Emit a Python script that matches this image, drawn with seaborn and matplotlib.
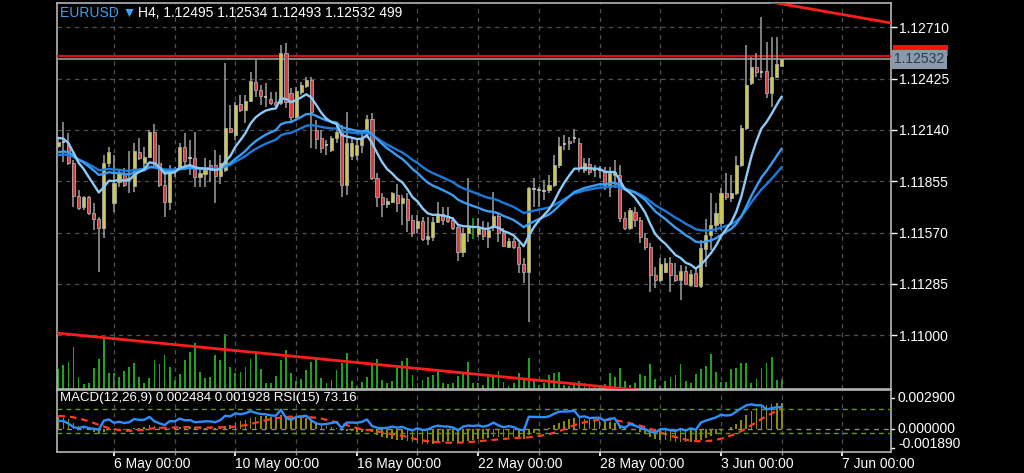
import numpy as np
import pandas as pd
import matplotlib
matplotlib.use("Agg")
import matplotlib.pyplot as plt
import matplotlib.transforms as mtransforms
from matplotlib.patches import Rectangle
import seaborn as sns

# ---------------- data (EURUSD H4) ----------------
opens = [1.12051, 1.12071, 1.12057, 1.11957, 1.11773, 1.11712, 1.11768, 1.11679, 1.11645, 1.11595,
         1.11957, 1.11734, 1.11851, 1.11901, 1.11862, 1.11829, 1.12018, 1.11957, 1.11990, 1.12129,
         1.11957, 1.11834, 1.11740, 1.11907, 1.11935, 1.12046, 1.11985, 1.11985, 1.11879, 1.11896,
         1.11946, 1.11946, 1.11884, 1.11918, 1.12151, 1.12112, 1.12285, 1.12251, 1.12301, 1.12407,
         1.12363, 1.12324, 1.12313, 1.12296, 1.12290, 1.12568, 1.12346, 1.12213, 1.12351, 1.12385,
         1.12418, 1.12140, 1.12096, 1.12051, 1.12029, 1.12096, 1.12140, 1.11834, 1.11996, 1.12001,
         1.12057, 1.12124, 1.12201, 1.11873, 1.11768, 1.11729, 1.11740, 1.11779, 1.11734, 1.11757,
         1.11640, 1.11595, 1.11634, 1.11534, 1.11545, 1.11629, 1.11673, 1.11657, 1.11640, 1.11601,
         1.11462, 1.11568, 1.11584, 1.11562, 1.11595, 1.11545, 1.11601, 1.11662, 1.11568, 1.11490,
         1.11523, 1.11490, 1.11395, 1.11351, 1.11807, 1.11812, 1.11807, 1.11807, 1.11834, 1.11946,
         1.12057, 1.12079, 1.12101, 1.12068, 1.11918, 1.11951, 1.11912, 1.11912, 1.11912, 1.11823,
         1.11890, 1.11890, 1.11651, 1.11595, 1.11684, 1.11640, 1.11540, 1.11490, 1.11334, 1.11306,
         1.11351, 1.11401, 1.11334, 1.11306, 1.11356, 1.11278, 1.11345, 1.11273, 1.11479, 1.11556,
         1.11612, 1.11623, 1.11790, 1.11762, 1.11790, 1.11946, 1.12151, 1.12402, 1.12491, 1.12463,
         1.12468, 1.12346, 1.12435, 1.12495]
highs = [1.12101, 1.12185, 1.12124, 1.11973, 1.11807, 1.11773, 1.11773, 1.11734, 1.11657, 1.12001,
         1.12046, 1.12001, 1.11918, 1.11929, 1.12023, 1.12068, 1.12096, 1.12046, 1.12140, 1.12174,
         1.12057, 1.11918, 1.11946, 1.11935, 1.12068, 1.12124, 1.12085, 1.12129, 1.11918, 1.11985,
         1.11973, 1.12029, 1.12001, 1.12513, 1.12279, 1.12296, 1.12335, 1.12335, 1.12463, 1.12529,
         1.12390, 1.12402, 1.12351, 1.12351, 1.12613, 1.12624, 1.12374, 1.12379, 1.12407, 1.12435,
         1.12435, 1.12196, 1.12140, 1.12085, 1.12107, 1.12179, 1.12168, 1.12240, 1.12101, 1.12096,
         1.12129, 1.12224, 1.12235, 1.11901, 1.11790, 1.11762, 1.11796, 1.11840, 1.11779, 1.11790,
         1.11668, 1.11668, 1.11657, 1.11657, 1.11657, 1.11740, 1.11712, 1.11712, 1.11657, 1.11612,
         1.11595, 1.11873, 1.11651, 1.11651, 1.11634, 1.11629, 1.11796, 1.11684, 1.11595, 1.11540,
         1.11540, 1.11512, 1.11429, 1.11823, 1.11873, 1.11823, 1.11862, 1.11890, 1.12001, 1.12101,
         1.12112, 1.12101, 1.12146, 1.12096, 1.11985, 1.11985, 1.11946, 1.11940, 1.11935, 1.11935,
         1.11973, 1.11946, 1.11684, 1.11707, 1.11712, 1.11657, 1.11568, 1.11512, 1.11379, 1.11429,
         1.11429, 1.11434, 1.11401, 1.11390, 1.11384, 1.11362, 1.11379, 1.11529, 1.11645, 1.11790,
         1.11734, 1.11818, 1.11901, 1.11890, 1.11996, 1.12168, 1.12613, 1.12546, 1.12568, 1.12768,
         1.12630, 1.12657, 1.12657, 1.12534]
lows = [1.12040, 1.11962, 1.11946, 1.11712, 1.11695, 1.11695, 1.11668, 1.11584, 1.11351, 1.11540,
        1.11935, 1.11684, 1.11823, 1.11823, 1.11790, 1.11796, 1.11973, 1.11918, 1.11985, 1.11929,
        1.11823, 1.11657, 1.11695, 1.11879, 1.11918, 1.11918, 1.11890, 1.11823, 1.11823, 1.11823,
        1.11851, 1.11734, 1.11840, 1.11907, 1.12124, 1.12085, 1.12240, 1.12179, 1.12296, 1.12324,
        1.12279, 1.12268, 1.12279, 1.12268, 1.12279, 1.12263, 1.12185, 1.12196, 1.12335, 1.12374,
        1.12040, 1.12035, 1.12012, 1.12001, 1.12018, 1.12068, 1.11768, 1.11779, 1.11973, 1.11973,
        1.12012, 1.12096, 1.11862, 1.11712, 1.11657, 1.11707, 1.11734, 1.11684, 1.11612, 1.11573,
        1.11545, 1.11568, 1.11523, 1.11501, 1.11523, 1.11623, 1.11612, 1.11623, 1.11584, 1.11412,
        1.11434, 1.11517, 1.11534, 1.11545, 1.11529, 1.11484, 1.11579, 1.11517, 1.11490, 1.11484,
        1.11479, 1.11345, 1.11290, 1.11073, 1.11712, 1.11712, 1.11751, 1.11790, 1.11823, 1.11929,
        1.12029, 1.12029, 1.12068, 1.11907, 1.11901, 1.11890, 1.11879, 1.11873, 1.11807, 1.11768,
        1.11818, 1.11629, 1.11584, 1.11584, 1.11601, 1.11512, 1.11473, 1.11240, 1.11262, 1.11295,
        1.11345, 1.11240, 1.11295, 1.11195, 1.11278, 1.11267, 1.11267, 1.11262, 1.11379, 1.11473,
        1.11573, 1.11584, 1.11751, 1.11740, 1.11779, 1.11935, 1.12140, 1.12390, 1.12435, 1.12429,
        1.12318, 1.12268, 1.12429, 1.12493]
closes = [1.12073, 1.12073, 1.11957, 1.11773, 1.11707, 1.11768, 1.11679, 1.11645, 1.11595, 1.11957,
          1.12018, 1.11846, 1.11901, 1.11834, 1.11868, 1.12023, 1.11985, 1.11990, 1.12129, 1.11935,
          1.11834, 1.11740, 1.11918, 1.11912, 1.12046, 1.11968, 1.11982, 1.11879, 1.11901, 1.11918,
          1.11918, 1.11884, 1.11957, 1.12151, 1.12129, 1.12279, 1.12251, 1.12301, 1.12413, 1.12363,
          1.12329, 1.12321, 1.12290, 1.12279, 1.12568, 1.12296, 1.12213, 1.12357, 1.12390, 1.12418,
          1.12240, 1.12090, 1.12040, 1.12057, 1.12096, 1.12129, 1.11834, 1.12068, 1.12068, 1.12057,
          1.12096, 1.12201, 1.11873, 1.11768, 1.11729, 1.11745, 1.11790, 1.11734, 1.11762, 1.11640,
          1.11568, 1.11634, 1.11534, 1.11551, 1.11629, 1.11673, 1.11640, 1.11634, 1.11595, 1.11462,
          1.11568, 1.11601, 1.11584, 1.11601, 1.11551, 1.11584, 1.11662, 1.11568, 1.11495, 1.11523,
          1.11490, 1.11395, 1.11351, 1.11818, 1.11812, 1.11807, 1.11801, 1.11834, 1.11946, 1.12051,
          1.12062, 1.12068, 1.12096, 1.11929, 1.11957, 1.11907, 1.11918, 1.11918, 1.11834, 1.11901,
          1.11907, 1.11651, 1.11595, 1.11695, 1.11640, 1.11545, 1.11490, 1.11334, 1.11306, 1.11395,
          1.11401, 1.11334, 1.11306, 1.11356, 1.11284, 1.11340, 1.11273, 1.11484, 1.11556, 1.11612,
          1.11679, 1.11790, 1.11768, 1.11790, 1.11946, 1.12151, 1.12390, 1.12491, 1.12463, 1.12465,
          1.12346, 1.12435, 1.12507, 1.12532]
volumes = [1000, 1200, 1350, 2100, 600, 250, 300, 1050, 1500, 2600, 800,
           800, 600, 900, 1100, 1300, 600, 300, 550, 1450, 1250,
           1700, 1100, 450, 750, 1450, 1850, 2300, 850, 550, 600,
           1700, 1450, 2750, 1100, 800, 850, 1100, 1500, 1750, 1000,
           300, 300, 650, 1450, 1950, 800, 400, 500, 950, 1350,
           1500, 550, 300, 450, 950, 1300, 1800, 400, 150, 350,
           600, 1250, 1500, 450, 300, 400, 1050, 1400, 1550, 700,
           300, 450, 600, 700, 900, 300, 250, 300, 650, 850,
           1350, 300, 300, 200, 600, 650, 900, 350, 150, 300,
           800, 550, 1550, 450, 200, 300, 700, 800, 850, 200,
           150, 200, 400, 300, 150, 100, 200, 250, 800, 600,
           1050, 400, 200, 300, 750, 650, 1250, 500, 150, 400,
           600, 700, 1250, 400, 300, 750, 1000, 1150, 1750, 850,
           350, 350, 1000, 1050, 1300, 1300, 300, 500, 1050, 1300,
           1600, 450, 499]

date_ticks = [11, 35, 59, 83, 107, 131, 155]
date_labels = ["6 May 00:00", "10 May 00:00", "16 May 00:00", "22 May 00:00",
               "28 May 00:00", "3 Jun 00:00", "7 Jun 00:00"]
price_ticks = [1.11000, 1.11285, 1.11570, 1.11855, 1.12140, 1.12425, 1.12710]
macd_ticks = [0.002900, 0.000000, -0.001890]
current_price = 1.12532
red_level = 1.12552
upper_trend_x = [120, 166]
upper_trend_y = [1.12954, 1.12728]
lower_trend_x = [-1, 116]
lower_trend_y = [1.11013, 1.10690]
highlight_bar = 82
# indicator state at the left edge of the chart
ma_periods = {"fast": 10, "mid": 25, "slow": 38}
ma_start = {"fast": 1.12101, "mid": 1.12012, "slow": 1.11996}
macd_start = 0.0012
rsi_start = 50.0
title_rest = "H4, 1.12495 1.12534 1.12493 1.12532 499"
macd_text = "MACD(12,26,9) 0.002484 0.001928 RSI(15) 73.16"

# ---------------- style ----------------
sns.set_theme(style="dark", rc={"axes.facecolor": "black", "figure.facecolor": "black",
                                 "text.color": "white", "xtick.color": "white",
                                 "ytick.color": "white"})
plt.rcParams["font.family"] = ["Liberation Sans", "DejaVu Sans"]

df = pd.DataFrame({"o": opens, "h": highs, "l": lows, "c": closes, "v": volumes})
df["i"] = np.arange(len(df))
close = df["c"]


def ema_seeded(series, span, seed):
    s = pd.concat([pd.Series([seed]), series], ignore_index=True)
    return s.ewm(span=span, adjust=False).mean().iloc[1:].reset_index(drop=True)


for k in ma_periods:
    df["ma_" + k] = ema_seeded(close, ma_periods[k], ma_start[k])

c0 = closes[0]
ema12 = ema_seeded(close, 12, c0)
ema26 = ema_seeded(close, 26, c0 - macd_start)
df["macd"] = ema12 - ema26
macd_ext = pd.concat([pd.Series([macd_start] * 8), df["macd"]], ignore_index=True)
df["signal"] = macd_ext.rolling(9).mean().iloc[8:].reset_index(drop=True)
delta = close.diff().fillna(0)
g0 = 0.0005
gain = ema_seeded(delta.clip(lower=0), 29, g0 * rsi_start / 50)
loss = ema_seeded(-delta.clip(upper=0), 29, g0 * (100 - rsi_start) / 50)
df["rsi"] = 100 - 100 / (1 + gain / loss)

W, H = 1024, 473
fig = plt.figure(figsize=(W / 100, H / 100), dpi=100, facecolor="black")
L, R = 57 / W, 891 / W
pos_price = [L, 1 - 389 / H, R - L, (389 - 3) / H]
pos_macd = [L, 1 - 452 / H, R - L, (452 - 390) / H]
XL = (-0.26, 164.6)
grid_x = list(range(-1, 165, 12))
grid_kw = dict(color="#505050", lw=0.9, ls=(0, (3.5, 3.5)))
spine_c = "#b5b5b5"

# volume axes (behind)
axv = fig.add_axes(pos_price, facecolor="black")
axv.bar(df["i"], df["v"], width=0.36, color="#22a022", linewidth=0)
axv.set_xlim(*XL)
axv.set_ylim(0, 19300)
axv.axis("off")

# price axes
ax = fig.add_axes(pos_price, facecolor="none", zorder=2)
ax.set_xlim(*XL)
ax.set_ylim(1.10700, 1.12846)
ax.set_xticks(grid_x)
ax.tick_params(axis="x", bottom=False, labelbottom=False)
ax.grid(True, axis="both", **grid_kw)
ax.yaxis.tick_right()
ax.set_yticks(price_ticks)
ax.set_yticklabels([f"{p:.5f}" for p in price_ticks])
ax.tick_params(axis="y", right=True, length=4, width=1, pad=2, labelsize=10,
               color="white", labelcolor="white")
for s in ax.spines.values():
    s.set_color(spine_c)
    s.set_linewidth(1.2)

# trendlines / levels
ax.plot(upper_trend_x, upper_trend_y, color="#ff1e1e", lw=2, zorder=3)
ax.plot(lower_trend_x, lower_trend_y, color="#ff1e1e", lw=2, zorder=3)
ax.axhline(red_level, color="#d81010", lw=1.6, zorder=3)
ax.axhline(current_price, color="#9a9a9a", lw=1.2, zorder=3)

# candles
x = df["i"].values
o, h, l, c = df["o"].values, df["h"].values, df["l"].values, df["c"].values
wick_c = np.where(x == highlight_bar, "#1fb81f", "#a0a0a0")
ax.vlines(x, l, h, colors=wick_c, lw=1.1, zorder=4)
body_lo = np.minimum(o, c)
body_h = np.abs(c - o)
is_doji = body_h < 0.00008
up = (c > o) & ~is_doji
dn = (c < o) & ~is_doji
ax.bar(x[up], body_h[up], bottom=body_lo[up], width=0.62, color="#cdc74c",
       edgecolor="#a8a8a8", linewidth=0.6, zorder=5)
ax.bar(x[dn], body_h[dn], bottom=body_lo[dn], width=0.62, color="#d83c3c",
       edgecolor="#a8a8a8", linewidth=0.6, zorder=5)
dj = is_doji & (x != highlight_bar)
ax.hlines(c[dj], x[dj] - 0.33, x[dj] + 0.33, colors="#c8c8c8", lw=1.2, zorder=5)

# moving averages
sns.lineplot(data=df, x="i", y="ma_slow", ax=ax, color="#1c7ad8", lw=1.7, legend=False, zorder=6)
sns.lineplot(data=df, x="i", y="ma_mid", ax=ax, color="#3a9cf2", lw=1.7, legend=False, zorder=6)
sns.lineplot(data=df, x="i", y="ma_fast", ax=ax, color="#8ccaf8", lw=1.7, legend=False, zorder=6)
ax.set_xlabel("")
ax.set_ylabel("")
ax.set_xlim(*XL)
ax.set_ylim(1.10700, 1.12846)

# price labels on the right
blend = mtransforms.blended_transform_factory(ax.transAxes, ax.transData)
ax.add_patch(Rectangle((1.002, red_level), 0.066, 0.00062, transform=blend,
                       facecolor="#ff1010", edgecolor="none", clip_on=False, zorder=10))
ax.annotate(f"{current_price:.5f}", xy=(1, current_price), xycoords=blend, xytext=(2, 0),
            textcoords="offset points", va="center", ha="left", fontsize=10, color="#2e3946",
            bbox=dict(boxstyle="square,pad=0.2", fc="#8a9aab", ec="none"),
            annotation_clip=False, zorder=11)

# title
fig.text(60 / W, 1 - 13 / H, "EURUSD \u25bc", color="#3fa2f0", fontsize=10, va="center",
         ha="left", family=["Liberation Sans", "DejaVu Sans"])
fig.text(138 / W, 1 - 13 / H, title_rest, color="white", fontsize=10, va="center", ha="left")

# ---------------- MACD / RSI panel ----------------
axm = fig.add_axes(pos_macd, facecolor="black")
axm.bar(x, df["macd"], width=0.34, color="#8e8c06", linewidth=0, zorder=2)
sns.lineplot(data=df, x="i", y="signal", ax=axm, color="#ff3b24", lw=1.6, legend=False, zorder=4)
axm.lines[-1].set_linestyle((0, (3, 2.2)))
axm.axhline(0, color="#8a8a8a", lw=1.0, ls=(0, (3.5, 3.5)), zorder=1)
axm.set_xlim(*XL)
axm.set_ylim(-0.00223, 0.00366)
axm.set_xticks(date_ticks)
axm.set_xticklabels(date_labels)
axm.set_xticks([g for g in grid_x if g not in date_ticks], minor=True)
axm.grid(True, axis="x", which="both", **grid_kw)
axm.tick_params(axis="x", which="major", bottom=True, length=3, color="white",
                labelsize=10, labelcolor="white", pad=0.5)
axm.tick_params(axis="x", which="minor", bottom=True, length=2, color="#888888")
for lab in axm.get_xticklabels():
    lab.set_ha("left")
axm.set_yticks([])
axm.set_xlabel("")
axm.set_ylabel("")
for s in axm.spines.values():
    s.set_color(spine_c)
    s.set_linewidth(1.2)
blend_m = mtransforms.blended_transform_factory(axm.transAxes, axm.transData)
for val, dy in zip(macd_ticks, [0, 0, 3]):
    axm.annotate(f"{val:.6f}", xy=(1, val), xycoords=blend_m, xytext=(5, dy),
                 textcoords="offset points", va="center", ha="left", fontsize=10,
                 color="white", annotation_clip=False)
    axm.plot([1, 1.004], [val, val], transform=blend_m, color="white", lw=1, clip_on=False)

axr = axm.twinx()
axr.set_ylim(-1.7, 101.7)
axr.axhline(70, color="#5fa000", lw=1.0, ls=(0, (3.5, 3)))
axr.axhline(30, color="#5fa000", lw=1.0, ls=(0, (3.5, 3)))
sns.lineplot(data=df, x="i", y="rsi", ax=axr, color="#2b8fff", lw=1.7, legend=False)
axr.set_xlim(*XL)
axr.set_yticks([])
axr.set_ylabel("")
axr.axis("off")

fig.text(60 / W, 1 - 398 / H, macd_text, color="white", fontsize=9.5, va="center", ha="left")

fig.savefig("out.png", dpi=100, facecolor="black")
